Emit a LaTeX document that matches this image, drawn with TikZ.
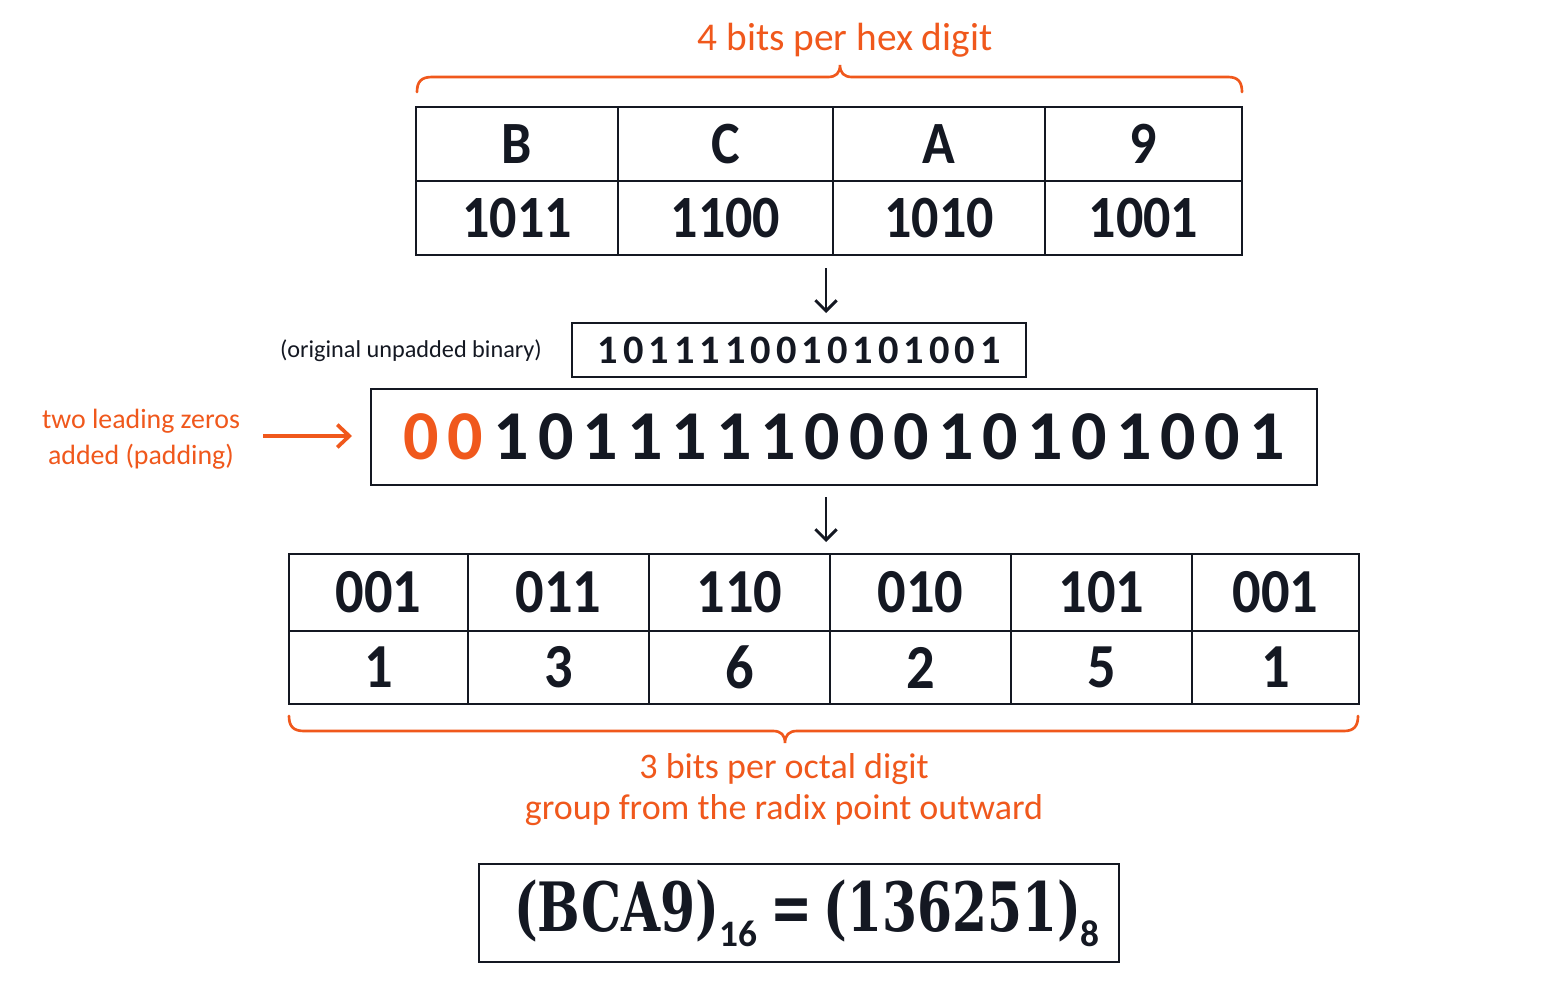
\documentclass[tikz,border=0pt]{standalone}
\usepackage{fontspec}
\setmainfont{Carlito}
\newfontfamily\labelfont{Carlito}
\newfontfamily\cellfont{Carlito}[FakeStretch=0.9]
\newfontfamily\unpfont{Carlito}[LetterSpace=12.4]
\newfontfamily\padfont{Carlito}[LetterSpace=12.8]
\newfontfamily\eqfont{DejaVu Serif}[FakeStretch=0.74]
\usetikzlibrary{arrows.meta}
\definecolor{accent}{RGB}{240,88,28}
\definecolor{ink}{RGB}{20,24,34}
\begin{document}
\begin{tikzpicture}[x=0.75pt,y=-0.75pt,
  cell/.style={draw=ink, line width=1.5pt, inner sep=0pt, text=ink,
    font=\cellfont\bfseries\fontsize{45}{45}\selectfont},
  ocell/.style={cell, font=\cellfont\bfseries\fontsize{47}{47}\selectfont},
  box/.style={draw=ink, line width=1.5pt, inner sep=0pt, text=ink},
  lab/.style={text=accent, inner sep=0pt, align=center},
  brace/.style={draw=accent, line width=2pt, line cap=round},
  arr/.style={draw=ink, line width=2.2pt, -{Straight Barb[length=8pt,width=16pt]}},
  oarr/.style={draw=accent, line width=2.8pt, -{Straight Barb[length=9pt,width=17pt]}}
]
\useasboundingbox[fill=white] (0,0) rectangle (1563,1006);

% title and top brace
\node[lab, font=\labelfont\fontsize{29.5}{34}\selectfont] (title) at (845,40) {4 bits per hex digit};
\draw[brace] (417,92) .. controls (417,82) and (421,77) .. (432,77) -- (828,77)
  .. controls (836,77) and (840,73) .. (840,65)
  .. controls (840,73) and (844,77) .. (852,77) -- (1228,77)
  .. controls (1238,77) and (1242,82) .. (1242,92);

% hex table
\node[cell, minimum width=151.5pt, minimum height=55.5pt] (hB) at (517,144) {B};
\node[cell, minimum width=161.25pt, minimum height=55.5pt] (hC) at (725.5,144) {C};
\node[cell, minimum width=159pt, minimum height=55.5pt] (hA) at (939,144) {A};
\node[cell, minimum width=147.75pt, minimum height=55.5pt] (h9) at (1143.5,144) {9};
\node[cell, minimum width=151.5pt, minimum height=55.5pt] (bB) at (517,218) {1011};
\node[cell, minimum width=161.25pt, minimum height=55.5pt] (bC) at (725.5,218) {1100};
\node[cell, minimum width=159pt, minimum height=55.5pt] (bA) at (939,218) {1010};
\node[cell, minimum width=147.75pt, minimum height=55.5pt] (b9) at (1143.5,218) {1001};

% arrow 1
\coordinate (a1s) at (826,268);
\coordinate (a1e) at (826,313);
\draw[arr] (a1s) -- (a1e);

% unpadded
\node[text=ink, inner sep=0pt, font=\labelfont\fontsize{18.2}{22}\selectfont] (orig) at (411,351) {(original unpadded binary)};
\node[box, minimum width=340.5pt, minimum height=40.5pt,
  font=\unpfont\bfseries\fontsize{30.3}{30}\selectfont] (unp) at (799,350) {1011110010101001};

% padded
\node[lab, font=\labelfont\fontsize{20.9}{27}\selectfont] (lead) at (141,439) {two leading zeros\\added (padding)};
\node[box, minimum width=709.5pt, minimum height=72pt,
  font=\padfont\bfseries\fontsize{52.5}{52}\selectfont] (pad) at (844,437) {\textcolor{accent}{00}\kern8pt 101111100010101001};
\coordinate (oas) at (263,436);
\coordinate (oae) at (352,436);
\draw[oarr] (oas) -- (oae);

% arrow 2
\coordinate (a2s) at (826,497);
\coordinate (a2e) at (826,542);
\draw[arr] (a2s) -- (a2e);

% octal table
\node[ocell, minimum width=134.25pt, minimum height=57.75pt] (o1) at (378.5,592.5) {001};
\node[ocell, minimum width=135.75pt, minimum height=57.75pt] (o2) at (558.5,592.5) {011};
\node[ocell, minimum width=135.75pt, minimum height=57.75pt] (o3) at (739.5,592.5) {110};
\node[ocell, minimum width=135.75pt, minimum height=57.75pt] (o4) at (920.5,592.5) {010};
\node[ocell, minimum width=135.75pt, minimum height=57.75pt] (o5) at (1101.5,592.5) {101};
\node[ocell, minimum width=125.25pt, minimum height=57.75pt] (o6) at (1275.5,592.5) {001};
\node[ocell, minimum width=134.25pt, minimum height=54.75pt] (d1) at (378.5,667.5) {1};
\node[ocell, minimum width=135.75pt, minimum height=54.75pt] (d2) at (558.5,667.5) {3};
\node[ocell, minimum width=135.75pt, minimum height=54.75pt] (d3) at (739.5,667.5) {6};
\node[ocell, minimum width=135.75pt, minimum height=54.75pt] (d4) at (920.5,667.5) {2};
\node[ocell, minimum width=135.75pt, minimum height=54.75pt] (d5) at (1101.5,667.5) {5};
\node[ocell, minimum width=125.25pt, minimum height=54.75pt] (d6) at (1275.5,667.5) {1};

% bottom brace
\draw[brace] (289,716) .. controls (289,726) and (293,731) .. (304,731) -- (773,731)
  .. controls (781,731) and (785,735) .. (785,743)
  .. controls (785,735) and (789,731) .. (797,731) -- (1344,731)
  .. controls (1354,731) and (1358,726) .. (1358,716);
\node[lab, font=\labelfont\fontsize{27}{30.75}\selectfont] (oct) at (784,790) {3 bits per octal digit\\group from the radix point outward};

% result
\node[box, minimum width=480pt, minimum height=73.5pt] (res) at (799,913)
  {\hspace{12pt}{\eqfont\bfseries\fontsize{51}{51}\selectfont (BCA9)}\raisebox{-11pt}{\labelfont\bfseries\fontsize{28}{28}\selectfont 16}\hspace{10pt}{\eqfont\bfseries\fontsize{51}{51}\selectfont =}\hspace{8pt}{\eqfont\bfseries\fontsize{51}{51}\selectfont (136251)}\raisebox{-11pt}{\labelfont\bfseries\fontsize{28}{28}\selectfont 8}};
\end{tikzpicture}
\end{document}
